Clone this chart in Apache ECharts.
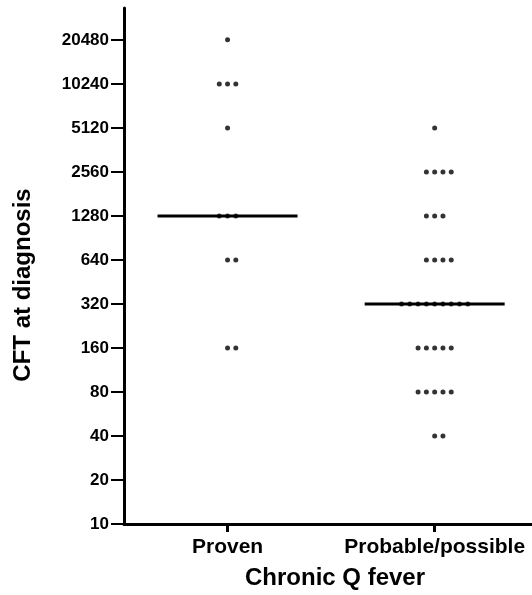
<!DOCTYPE html>
<html>
<head>
<meta charset="utf-8">
<script src="https://cdn.jsdelivr.net/npm/echarts@6/dist/echarts.min.js"></script>
<style>
html,body{margin:0;padding:0;background:#fff;}
#chart{width:532px;height:595px;}
</style>
</head>
<body>
<div id="chart"></div>
<script>
const categories = ['Proven', 'Probable/possible'];
const provenValues = [20480, 10240, 10240, 10240, 5120, 1280, 1280, 1280, 640, 640, 160, 160];
const probableValues = [5120, 2560, 2560, 2560, 2560, 1280, 1280, 1280, 640, 640, 640, 640,
  320, 320, 320, 320, 320, 320, 320, 320, 320, 160, 160, 160, 160, 160, 80, 80, 80, 80, 80, 40, 40];
const medians = [1280, 320];
const tickLabels = [10, 20, 40, 80, 160, 320, 640, 1280, 2560, 5120, 10240, 20480];

const FONT = '"Liberation Sans", Arial, Helvetica, sans-serif';
const toAxis = v => Math.log2(v / 10);
const DOT_STEP = 0.04;
const MEDIAN_HALF = 0.338;

function scatterPoints(values, catIndex) {
  const groups = {};
  values.forEach(v => { groups[v] = (groups[v] || 0) + 1; });
  const pts = [];
  Object.keys(groups).forEach(k => {
    const n = groups[k];
    const start = -Math.floor((n - 1) / 2);
    for (let i = 0; i < n; i++) {
      pts.push([catIndex + (start + i) * DOT_STEP, toAxis(Number(k))]);
    }
  });
  return pts;
}

const tickPositions = tickLabels.map(toAxis);

const chart = echarts.init(document.getElementById('chart'), null, {renderer: 'canvas'});
const series = [];
[provenValues, probableValues].forEach((vals, ci) => {
  series.push({
    type: 'scatter',
    data: scatterPoints(vals, ci),
    symbol: 'circle',
    symbolSize: 5,
    itemStyle: {color: '#000'},
    silent: true
  });
});
medians.forEach((m, ci) => {
  series.push({
    type: 'line',
    data: [[ci - MEDIAN_HALF, toAxis(m)], [ci + MEDIAN_HALF, toAxis(m)]],
    symbol: 'none',
    lineStyle: {color: '#000', width: 3},
    silent: true
  });
});

chart.setOption({
  animation: false,
  backgroundColor: '#fff',
  grid: {left: 124, right: 0, top: 8, bottom: 69, containLabel: false},
  xAxis: {
    type: 'value',
    min: -0.5,
    max: 1.47,
    splitLine: {show: false},
    axisLine: {onZero: false, lineStyle: {color: '#000', width: 3}},
    axisTick: {show: true, length: 8, lineStyle: {color: '#000', width: 3}, customValues: [0, 1]},
    axisLabel: {
      customValues: [0, 1],
      formatter: v => categories[Math.round(v)],
      color: '#000', fontFamily: FONT, fontWeight: 'bold', fontSize: 21, margin: 13
    },
    name: 'Chronic Q fever',
    nameLocation: 'middle',
    nameGap: 42,
    nameTextStyle: {color: '#000', fontFamily: FONT, fontWeight: 'bold', fontSize: 24, padding: [0, 0, 0, 14]}
  },
  yAxis: {
    type: 'value',
    min: 0,
    max: 11.724,
    splitLine: {show: false},
    axisLine: {onZero: false, lineStyle: {color: '#000', width: 3}},
    axisTick: {show: true, length: 13, lineStyle: {color: '#000', width: 2}, customValues: tickPositions},
    axisLabel: {
      customValues: tickPositions,
      formatter: v => String(Math.round(10 * Math.pow(2, v))),
      color: '#000', fontFamily: FONT, fontWeight: 'bold', fontSize: 17, margin: 15
    },
    name: 'CFT at diagnosis',
    nameLocation: 'middle',
    nameGap: 89,
    nameTextStyle: {color: '#000', fontFamily: FONT, fontWeight: 'bold', fontSize: 24, padding: [0, 38, 0, 0]}
  },
  series: series
});
</script>
</body>
</html>
